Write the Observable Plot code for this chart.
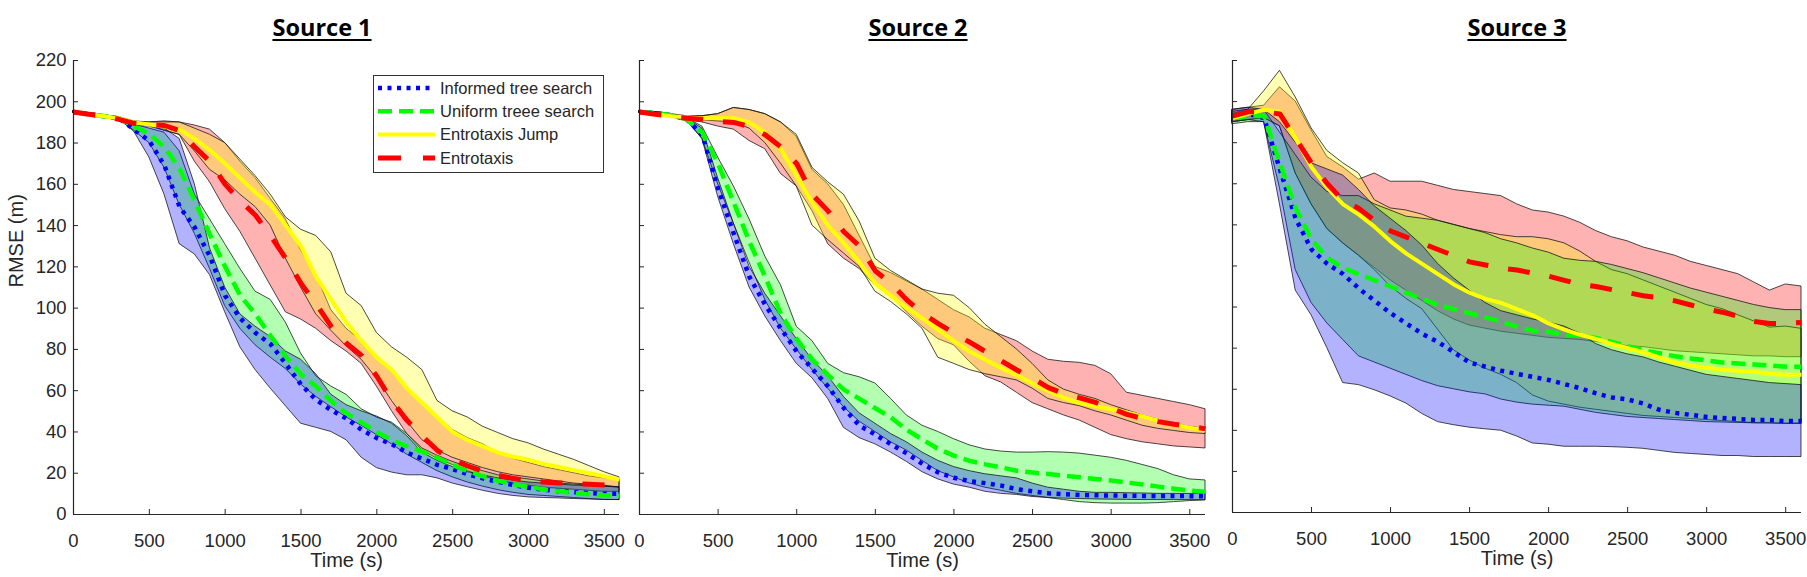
<!DOCTYPE html>
<html><head><meta charset="utf-8">
<script src="https://cdn.jsdelivr.net/npm/d3@7"></script>
<script src="https://cdn.jsdelivr.net/npm/@observablehq/plot@0.6"></script>
<style>
html,body{margin:0;padding:0;background:#fff}
body{width:1807px;height:577px;position:relative;overflow:hidden;font-family:"Liberation Sans",Arial,sans-serif}
.panel{position:absolute;top:0}
.title{position:absolute;top:16px;transform:translateX(-50%);font-family:"Open Sans",sans-serif;font-weight:700;font-size:23.5px;line-height:1;color:#000;text-decoration:underline;text-decoration-thickness:2px;text-underline-offset:3px;white-space:nowrap}
.legend{position:absolute;left:373px;top:75px}
</style></head><body>
<script>
// ---------------- data ----------------
const time = [0,100,200,300,400,500,600,700,800,900,1000,1100,1200,1300,1400,1500,1600,1700,1800,1900,2000,2100,2200,2300,2400,2500,2600,2700,2800,2900,3000,3100,3200,3300,3400,3500,3600];
const xTicks = [0,500,1000,1500,2000,2500,3000,3500];
const yTicks = [0,20,40,60,80,100,120,140,160,180,200,220];
const methods = ["Informed tree search","Uniform treee search","Entrotaxis Jump","Entrotaxis"];
const panelTitles = ["Source 1","Source 2","Source 3"];
const xLabel = "Time (s)";
const yLabel = "RMSE (m)";

// Source 1
const s1InformedMean = [195,194,193,192,186.5,181,169,149,139,125,106,95,88,82.5,73,63,55.5,50.5,46.5,41,37,34,30,27,24,22,19.5,17.5,15.8,14.3,13,12,11.3,10.8,10.4,10,10];
const s1InformedLow  = [194.5,193.5,192.5,191.5,185.5,173,155,131,126,116,98,81,70,61,52.5,44,42,40,36,27.5,22.5,20.3,19,19,17.5,15,13.2,11.5,10,9,8.3,8,7.8,7.5,7.3,7.1,7];
const s1InformedHigh = [195.5,194.5,193.5,192.5,189,188.5,187,182,160,129,110,97,91,86,79,75,68,58,53,50,47.5,44,38,30,26,23,20.5,19,17.5,16.5,15.5,15,14.5,14,13.8,13.5,13.3];
const s1UniformMean  = [195,194,193,192,188,184.5,178,167.5,152,135.5,120,106,97,86.5,76.5,68,62,55,49,44.5,40,36,33,30.5,27.5,24,21,18.5,16.3,14.7,13.3,12.2,11.2,10.4,9.8,9.3,9];
const s1UniformLow   = [194.5,193.5,192.5,191.5,186,180,168,150,136,119,101,90,82,76,70.5,63,57,52,47,43,38.5,34,29,25,21,18,15.5,13.5,11.8,10.5,9.5,9,8.5,8,7.5,7,7];
const s1UniformHigh  = [195.5,194.5,193.5,192.5,189,187,185,176,155,143,131,119,108,104,93,78,67,62,58,51,47,44.5,39,32,28.5,25.5,23,21,19,18,17,16,15,14.5,14,13.5,13];
const s1JumpMean     = [195,194,193,192,190,189,188,186.5,182,176.5,170,163,156,150,140,130,115,104,93,84,76,70,61,54,47,40,36,33,30,28,26.5,24.5,23,21.5,20,18.5,17];
const s1JumpLow      = [194.5,193.5,192.5,191.5,189.5,188.5,186,184,176,167,162,155,149,140,124,110,97,89,81.5,75,66,55,45,36,31,27.5,25,22.5,20.5,19,18,17,16,15,14.5,14,13];
const s1JumpHigh     = [195.5,194.5,193.5,192.5,190.5,190,190,190,187,184,180,172,164,155,144,138,135,127,107,101,88,81,76,70,55,50,47,42.5,39.5,36.5,34.5,31.5,29,26.5,23.5,20.5,18];
const s1EntroMean    = [195,194,193,191.5,189.5,189,188.5,186,178,171,160,152,145,135,124,112,102,91,83,77,67,55,45.5,38,31,26.5,23.5,21,19,17.5,16.3,15.7,15.3,15,14.6,14.3,14];
const s1EntroLow     = [194.5,193.5,192.5,191,188.5,188,186,184,171,161,148,137,124,111,98,94.5,90,84,79,73,62,50,39,31,27,24,21,18.5,16.5,15,14,13,12.5,12,11.5,11,11];
const s1EntroHigh    = [195.5,194.5,193.5,192,190,190,190.5,190,188.5,186.5,180,171,163,153,143,128,116,99,90,84,77,70,61,54,47,41,37,34,30,27,25,23,21.5,20,18.5,17.5,17];

// Source 2
const s2InformedMean = [195,194.5,193.5,191.5,184,158,136,115,101.5,90,79,70.5,62,51.5,43,38.7,34,29.6,24.5,20.4,17.8,16.2,15.2,14,12.3,11.2,10.3,9.8,9.5,9.3,9.2,9.1,9,9,9,8.9,8.8];
const s2InformedLow  = [194.5,194,193,191,182,154,131,110,96,84,73,66,56,42,37,34,30,25.5,20.5,17,14.5,13,11,10,9.5,8.5,8,7.7,7.5,7.3,7.2,7.1,7,7,7,7,7];
const s2InformedHigh = [195.5,195,194,192,187,163,141,120,107,96,85,75,67,57,49,44,39,35,30,26,23,21,19.5,18.5,17.5,15,13,12,11,10.5,10.5,10.3,10.2,10,10,10,10];
const s2UniformMean  = [195,194.5,193.5,191.5,185,170,151,132,115,97,85,75,67.5,60.5,56,51.5,47,41,36.3,31.8,28.5,26,24.3,22.8,21.2,20.3,19.6,18.8,18,17.2,16.5,15.5,14.5,13.5,12.5,11.6,11];
const s2UniformLow   = [194.5,194,193,191,182,160,141,122,104,90,80,70,61,52,45,40,35,31,26,21,18,15,13,11.5,10,9,8,7,6,5.5,5.3,5.3,5.3,5.5,6,6.5,6.8];
const s2UniformHigh  = [195.5,195,194,192,188,173,159,143,125,111,91,84,73,68.5,66.5,63.5,56,48,43,40,36.5,33.5,31.5,30.5,30,30,30.2,30,29.5,28.5,27.5,26,24,22,19,17,16.5];
const s2JumpMean     = [195,194,193,192.5,192,192,192,190,185,177,164,151,140,131.5,122,112,106,100,95,89.5,84,79,75,71,67.5,63.5,60,56.5,54,52.5,51,49.5,47.5,45.5,43.5,42,40.7];
const s2JumpLow      = [194.5,193.5,192.5,192,191,190.5,190,187,180,170,159,140,133,126.5,120,108,103,97,90,76,73,70,68,66.5,65,61,56,54,52.5,50,48,45.5,43,41.5,40.5,39.5,39];
const s2JumpHigh     = [195.5,194.5,193.5,193,193,194,197,196,194,190,184,168,161,155,142,124,118,113.5,109,107,106,100,92,86,80,73,65,60.5,58,56,53,50.5,48,46,44,42.5,41.5];
const s2EntroMean    = [195,194,193,192,191.5,190.5,190,188,184,178,170,155,147,137,130,118,112,104,97.5,92.5,88,83.5,79,74.5,70,66,61.5,58.5,56.5,54.3,51.5,48.5,46.5,45,43.7,42.7,41.5];
const s2EntroLow     = [194.5,193.5,192.5,191,190,188,186.5,181,177,165,159,147,131,124,119,111,106,98,91,85,82,74,67,64,59,54,51,48,45.5,42,38.5,36.5,35,34,33,32.5,32];
const s2EntroHigh    = [195.5,195,194,193,193,194,197,196,194,190,183,167,160,150,135,120,117,113,109,104,99,95.5,90,87,84,79,75,74,73.5,72,68,59,57.5,56,54.5,53,51];

// Source 3
const s3InformedMean = [193,194,192,167,143,128,121,116,109,103,97,92,87,83,78,73,71,69,67.5,66,64.5,62.5,60.5,58,56,55,53,50,48.5,47.5,46.5,46,45.5,45,45,44.5,44.5];
const s3InformedLow  = [190,191,190,150,108,96,80,63,62,59.5,56.5,53,48,44,42.5,41.3,40.5,39.8,37,33.6,33,32,32,32,31.8,31.5,31,30,29,28.5,28,27.5,27.5,27,27,27,27];
const s3InformedHigh = [196,197,196,190,180,170,167,164,157,149,143,137,130,121,114,108,102,98,96,94,92.5,90.5,87,82,79,77,75.5,73,71,69,67,66,65,64,63,62.5,62];
const s3UniformMean  = [192,193,193,170,148,133,124,119,116,113,110,107,104,101,99,97,95,93,90.5,88.5,88,86.5,86,85,83,81,79,77.5,76,75,74,73,72.5,72,71.5,71,71];
const s3UniformLow   = [189,190,190,158,118,102,92,84,76,73,70,67,64,61.5,60,58.5,57.5,55,53.5,52.5,52,51.5,50,48.5,47.5,46.5,46,45.5,45,44.5,44,43.8,43.6,43.4,43.3,43.2,43.2];
const s3UniformHigh  = [195,196,196,185,174,163,156,154,154,150,147,144,143,142,140,138,136,133,131,128.5,126.5,123.5,122.5,122,120.5,118.5,116.5,114,111.5,109,107,105,103,101,99.5,98.5,98.5];
const s3JumpMean     = [192,194,196,195,182,168,158,150,145,139,132,126,121,116,111,107,104,102,99,96,92,89,86.5,84.5,82,80,78,75.5,73,71.5,70.5,69.5,69,68.5,67.5,67,67];
const s3JumpLow      = [190,191,192,188,165,150,138,131,125,118,110,104,99,89,79,74,70,67,63,57,54,52.5,51,50,49,48,47,46.5,46,45.5,45,44.5,44,43.5,43.5,43.2,43.2];
const s3JumpHigh     = [194,196,205,215,202,187,176,170,165,152,148,147,145,142,140,138,136.5,135,134,134,133,131,127,122,118,116,113,110,107,104,101,99,96,93,90,90.5,89.4];
const s3EntroMean    = [193,195,195,194,182,170,160,152,148,142,137,134,131,128,125,122,120.5,119,118,116.5,115,113,111,110,108.5,107,105.5,104.5,103,101,99,97.5,95.5,93,92,92,92.5];
const s3EntroLow     = [190,191,192,188,165,150,138,131,125,119,113,108,103,98,94,91,89.5,88,87,86,85,84.5,84,83,82,81,80.5,79.5,78.5,78,77.5,77,76.5,76,76,75.6,75.6];
const s3EntroHigh    = [196,197,198,207,200,186,173,168,162,165,161,161,161,159,157,156,155,154,150,147,146,144,141,137,134,132,129,127,125,122,120,118,116,112,108,111,110];

// --------------- assemble tables ---------------
const panelSeries = [
  [[s1InformedMean,s1InformedLow,s1InformedHigh],[s1UniformMean,s1UniformLow,s1UniformHigh],[s1JumpMean,s1JumpLow,s1JumpHigh],[s1EntroMean,s1EntroLow,s1EntroHigh]],
  [[s2InformedMean,s2InformedLow,s2InformedHigh],[s2UniformMean,s2UniformLow,s2UniformHigh],[s2JumpMean,s2JumpLow,s2JumpHigh],[s2EntroMean,s2EntroLow,s2EntroHigh]],
  [[s3InformedMean,s3InformedLow,s3InformedHigh],[s3UniformMean,s3UniformLow,s3UniformHigh],[s3JumpMean,s3JumpLow,s3JumpHigh],[s3EntroMean,s3EntroLow,s3EntroHigh]]
];
function tableFor(p) {
  const rows = [];
  panelSeries[p].forEach((s, m) => time.forEach((t, i) => rows.push({method: methods[m], t, mean: s[0][i], low: s[1][i], high: s[2][i]})));
  return rows;
}

// --------------- styles ---------------
const colors = {"Informed tree search":"#0000ff","Uniform treee search":"#00ff00","Entrotaxis Jump":"#ffff00","Entrotaxis":"#ff0000"};
const dashes = {"Informed tree search":"4,5.5","Uniform treee search":"14,7","Entrotaxis Jump":null,"Entrotaxis":"22,20"};
const widths = {"Informed tree search":4.5,"Uniform treee search":4.5,"Entrotaxis Jump":4,"Entrotaxis":5};
const fillOrder = ["Entrotaxis","Entrotaxis Jump","Uniform treee search","Informed tree search"];
const axisColor = "#262626";

const layout = [
  {left:0,    width:640, ml:73, mr:21, mb:63, showY:true},
  {left:625,  width:590, ml:14, mr:10, mb:63, showY:false},
  {left:1215, width:592, ml:17, mr:6,  mb:65, showY:false}
];
const titleX = [322, 918, 1517];

layout.forEach((L, p) => {
  const rows = tableFor(p);
  const marks = [];
  fillOrder.forEach(m => marks.push(Plot.areaY(rows.filter(r => r.method === m), {
    x: "t", y1: "low", y2: "high", fill: colors[m], fillOpacity: 0.3,
    stroke: "#111", strokeWidth: 0.9, strokeOpacity: 0.85
  })));
  methods.forEach(m => marks.push(Plot.lineY(rows.filter(r => r.method === m), {
    x: "t", y: "mean", stroke: colors[m], strokeWidth: widths[m],
    strokeDasharray: dashes[m], strokeLinecap: "butt", strokeLinejoin: "round"
  })));
  marks.push(Plot.axisX({ticks: xTicks, tickSize: -5, tickPadding: 24, label: null, stroke: axisColor, fill: axisColor, fontSize: 18.5,
    tickFormat: d => String(d)}));
  marks.push(Plot.axisY({ticks: yTicks, tickSize: -5, tickPadding: 12, label: null, stroke: axisColor, fill: axisColor, fontSize: 18.5,
    tickFormat: L.showY ? (d => String(d)) : (() => "")}));
  marks.push(Plot.ruleX([0], {stroke: axisColor, strokeWidth: 1.2}));
  marks.push(Plot.ruleY([0], {stroke: axisColor, strokeWidth: 1.2}));
  marks.push(Plot.text([xLabel], {frameAnchor: "bottom", dy: 52, fontSize: 20, fill: axisColor}));
  if (L.showY) marks.push(Plot.text([yLabel], {frameAnchor: "left", dx: -57, rotate: -90, fontSize: 20, fill: axisColor}));

  const svg = Plot.plot({
    width: L.width, height: 577,
    marginLeft: L.ml, marginRight: L.mr, marginTop: 60, marginBottom: L.mb,
    x: {domain: [0, 3600]},
    y: {domain: [0, 220]},
    style: {background: "transparent", fontFamily: "'Liberation Sans', Arial, sans-serif", overflow: "visible"},
    marks
  });
  svg.classList.add("panel");
  svg.style.left = L.left + "px";
  svg.style.position = "absolute";
  svg.style.top = "0px";
  svg.style.maxWidth = "none";
  document.body.appendChild(svg);

  const t = document.createElement("div");
  t.className = "title";
  t.style.left = titleX[p] + "px";
  t.textContent = panelTitles[p];
  document.body.appendChild(t);
});

// --------------- legend ---------------
const ns = "http://www.w3.org/2000/svg";
const lg = document.createElementNS(ns, "svg");
lg.setAttribute("class", "legend");
lg.setAttribute("width", 232); lg.setAttribute("height", 99);
const box = document.createElementNS(ns, "rect");
box.setAttribute("x", 0.5); box.setAttribute("y", 0.5); box.setAttribute("width", 230); box.setAttribute("height", 97);
box.setAttribute("fill", "#fff"); box.setAttribute("stroke", "#333"); box.setAttribute("stroke-width", 1);
lg.appendChild(box);
methods.forEach((m, i) => {
  const cy = 13 + i * 23.3;
  const ln = document.createElementNS(ns, "line");
  ln.setAttribute("x1", 5); ln.setAttribute("x2", 62); ln.setAttribute("y1", cy); ln.setAttribute("y2", cy);
  ln.setAttribute("stroke", colors[m]); ln.setAttribute("stroke-width", widths[m]);
  if (dashes[m]) ln.setAttribute("stroke-dasharray", m === "Entrotaxis" ? "23,22" : dashes[m]);
  lg.appendChild(ln);
  const tx = document.createElementNS(ns, "text");
  tx.setAttribute("x", 67); tx.setAttribute("y", cy); tx.setAttribute("dy", "0.35em");
  tx.setAttribute("font-size", 16.5); tx.setAttribute("fill", "#262626");
  tx.setAttribute("font-family", "'Liberation Sans', Arial, sans-serif");
  tx.textContent = m;
  lg.appendChild(tx);
});
document.body.appendChild(lg);
</script>
</body></html>
